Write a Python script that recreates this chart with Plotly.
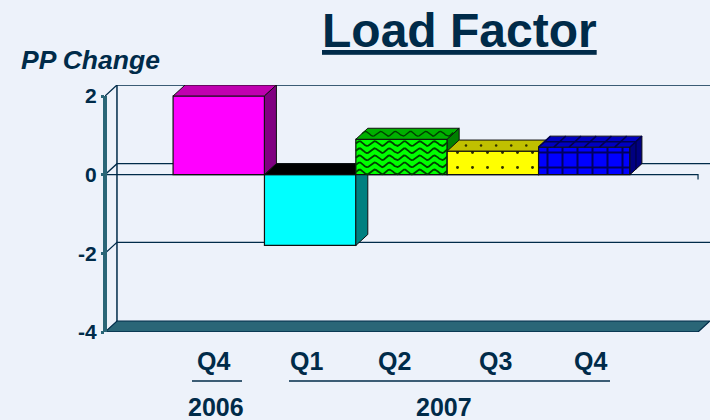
import numpy as np
import plotly.graph_objects as go

# ---- data
categories = [0, 1, 2, 3, 4]
values = [2.0, -1.8, 0.9, 0.6, 0.7]
quarter_labels = ["Q4", "Q1", "Q2", "Q3", "Q4"]
year_labels = ["2006", "2007"]
y_ticks = [-4, -2, 0, 2]
y_tick_labels = ["<b>-4</b>", "<b>-2</b>", "<b>0</b>", "<b>2</b>"]

front_colors = ["#ff00ff", "#00ffff", "#00ff00", "#ffff00", "#0000ff"]
top_colors = ["#c000b0", "#000000", "#00b000", "#c0c000", "#0000c0"]
side_colors = ["#800080", "#008080", "#008000", "#808000", "#000080"]

BG = "#EDF2FA"
INK = "#002B49"
TEAL = "#2A6677"
FONT = "Liberation Sans, Arial, sans-serif"

# plot frame in pixels
L, R, T, B = 105, 710, 85, 332
XR = [-1.245, 5.376]
YR = [-4, 2.28]
DX, DY = 0.131, 0.28     # depth of the 3-D box
XPX = (R - L) / (XR[1] - XR[0])
YPX = (B - T) / (YR[1] - YR[0])


def px(x):
    return (x - L) / (R - L)


def py(y):
    return (B - y) / (B - T)


fig = go.Figure()

# ---- back walls, floor, front axis (base subplot)
FRONT_R = 5.245
for v in y_ticks[1:]:
    fig.add_trace(go.Scatter(x=[XR[0], XR[0] + DX, XR[1]], y=[v, v + DY, v + DY], mode="lines",
                             line=dict(color=INK, width=1.3), cliponaxis=False,
                             hoverinfo="skip", showlegend=False))
fig.add_trace(go.Scatter(x=[XR[0] + DX, XR[0] + DX], y=[-4 + DY, 2 + DY], mode="lines",
                         line=dict(color=INK, width=1.5), hoverinfo="skip", showlegend=False))
fig.add_trace(go.Scatter(x=[XR[0], XR[0] + DX, XR[1], FRONT_R, XR[0]],
                         y=[-4, -4 + DY, -4 + DY, -4, -4], mode="lines", fill="toself",
                         fillcolor=TEAL, line=dict(color=INK, width=1.2), cliponaxis=False,
                         hoverinfo="skip", showlegend=False))
for v in (0, -4):
    fig.add_trace(go.Scatter(x=[XR[0], FRONT_R, FRONT_R], y=[v, v, v - 0.12], mode="lines",
                             line=dict(color=INK, width=1.2), cliponaxis=False,
                             hoverinfo="skip", showlegend=False))
# thick teal value axis
fig.add_shape(type="line", xref="paper", yref="y", x0=0, x1=0, y0=-4, y1=2,
              line=dict(color=TEAL, width=4), layer="above")


def waves(x0, x1, y0, y1, amp=0.06, step=0.18):
    """decorative wave hatch lines over a face"""
    xs, ys = [], []
    for r in np.arange(y0 + 0.07, y1 - 0.02, step):
        xx = np.linspace(x0, x1, 60)
        yy = r + amp * np.sin((xx - x0) * XPX / 15 * 2 * np.pi)
        xs += list(xx) + [None]
        ys += list(yy) + [None]
    return xs, ys


for i, (c, v) in enumerate(zip(categories, values)):
    n = i + 2
    xa, ya = f"x{n}", f"y{n}"
    x0, x1 = c - 0.5, c + 0.5
    pattern = None
    if i == 3:
        pattern = dict(shape=".", size=15, solidity=0.03, fgcolor="#303000", bgcolor=front_colors[i], fillmode="replace")
    if i == 4:
        pattern = dict(shape="+", size=15, solidity=0.25, fgcolor="#000060", bgcolor=front_colors[i], fillmode="replace")
    fig.add_trace(go.Bar(x=[c], y=[v], width=1, xaxis=xa, yaxis=ya, showlegend=False,
                         marker=dict(color=front_colors[i], pattern=pattern,
                                     line=dict(color="#101010", width=1.2)),
                         hoverinfo="x+y"))
    top = max(v, 0)
    low = min(v, 0)
    # top face
    fig.add_trace(go.Scatter(x=[x0, x0 + DX, x1 + DX, x1, x0], y=[top, top + DY, top + DY, top, top],
                             xaxis=xa, yaxis=ya, mode="lines", fill="toself", fillcolor=top_colors[i],
                             line=dict(color="#101010", width=1), cliponaxis=False,
                             hoverinfo="skip", showlegend=False))
    # side face
    fig.add_trace(go.Scatter(x=[x1, x1 + DX, x1 + DX, x1, x1], y=[top, top + DY, low + DY, low, top],
                             xaxis=xa, yaxis=ya, mode="lines", fill="toself", fillcolor=side_colors[i],
                             line=dict(color="#101010", width=1), cliponaxis=False,
                             hoverinfo="skip", showlegend=False))
    # surface hatching
    if i == 2:
        wx, wy = waves(x0, x1, 0, v)
        fig.add_trace(go.Scatter(x=wx, y=wy, xaxis=xa, yaxis=ya, mode="lines",
                                 line=dict(color="#004000", width=1.8), hoverinfo="skip", showlegend=False))
        wx, wy = waves(x0 + DX / 2, x1 + DX / 2, v + DY / 2 - 0.07, v + DY / 2 + 0.05)
        fig.add_trace(go.Scatter(x=wx, y=wy, xaxis=xa, yaxis=ya, mode="lines",
                                 line=dict(color="#004000", width=1.4), hoverinfo="skip", showlegend=False))
    if i == 3:
        fig.add_trace(go.Scatter(x=np.arange(x0 + 0.14, x1 + 0.1, 0.165) + DX / 2, y=[v + DY / 2] * 6,
                                 xaxis=xa, yaxis=ya, mode="markers",
                                 marker=dict(color="#303000", size=2.5), hoverinfo="skip", showlegend=False))
    if i == 4:
        gx, gy = [], []
        for k in np.arange(x0, x1 + 0.01, 1 / 6):
            gx += [k, k + DX, None]
            gy += [v, v + DY, None]
        gx += [x0 + DX / 2, x1 + DX / 2, None, x1 + DX / 2, x1 + DX / 2]
        gy += [v + DY / 2, v + DY / 2, None, v + DY / 2, DY / 2]
        fig.add_trace(go.Scatter(x=gx, y=gy, xaxis=xa, yaxis=ya, mode="lines",
                                 line=dict(color="#000050", width=1.5), hoverinfo="skip", showlegend=False))

layout = dict(
    width=710, height=420, autosize=False,
    margin=dict(l=L, r=710 - R, t=T, b=420 - B),
    paper_bgcolor=BG, plot_bgcolor=BG, showlegend=False,
    font=dict(family=FONT, color=INK),
    xaxis=dict(range=XR, visible=False, fixedrange=True),
    yaxis=dict(range=YR, tickvals=y_ticks, ticktext=y_tick_labels, ticks="outside", ticklen=3,
               tickwidth=3, tickcolor=TEAL, showgrid=False, zeroline=False, showline=False,
               fixedrange=True, tickfont=dict(family=FONT, size=21, color=INK)),
)
for i in range(len(categories)):
    n = i + 2
    layout[f"xaxis{n}"] = dict(range=XR, visible=False, overlaying="x", fixedrange=True, anchor=f"y{n}")
    layout[f"yaxis{n}"] = dict(range=YR, visible=False, overlaying="y", fixedrange=True, anchor=f"x{n}")
fig.update_layout(**layout)


def text(s, x, y, size):
    fig.add_annotation(text=s, x=px(x), y=py(y), xref="paper", yref="paper", showarrow=False,
                       xanchor="center", yanchor="middle",
                       font=dict(family=FONT, size=size, color=INK))


text("<b><u>Load Factor</u></b>", 459, 30, 48)
text("<b><i>PP Change</i></b>", 90, 60, 26.5)
for s, x in zip(quarter_labels, [213, 306, 394, 495, 590]):
    text(f"<b>{s}</b>", x, 361, 25)
for s, x in zip(year_labels, [216, 444]):
    text(f"<b>{s}</b>", x, 407, 25)
for a, b in [(192, 242), (289, 610)]:
    fig.add_shape(type="line", xref="paper", yref="paper", x0=px(a), x1=px(b), y0=py(381), y1=py(381),
                  line=dict(color=INK, width=1.5))

fig.write_html("out.html", config=dict(displayModeBar=False),
               post_script="document.body.style.margin='0';document.body.style.overflow='hidden';")
